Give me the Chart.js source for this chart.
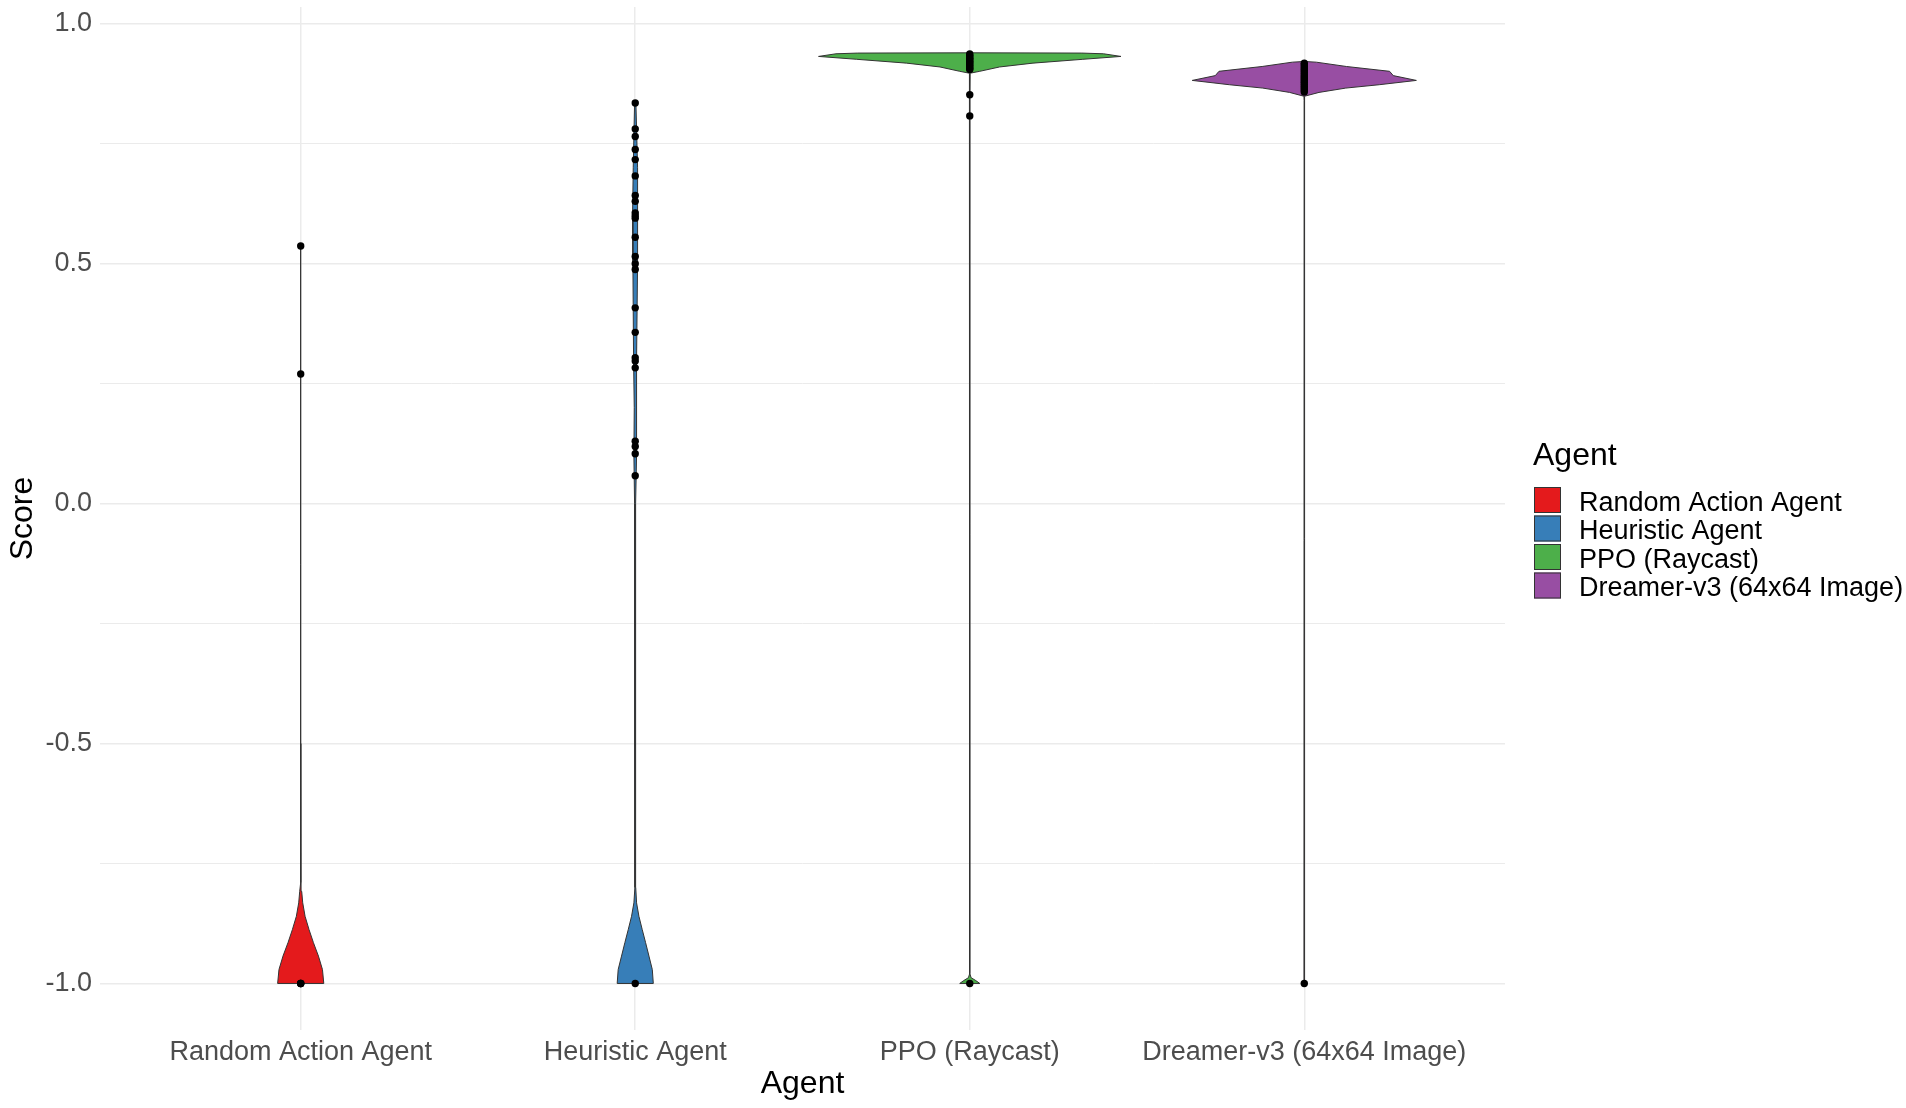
<!DOCTYPE html>
<html>
<head>
<meta charset="utf-8">
<script src="https://cdn.jsdelivr.net/npm/chart.js@4"></script>
<style>
  body { margin: 0; background: #fff; }
  #chart { display: block; }
</style>
</head>
<body>
<canvas id="chart" width="1906" height="1108"></canvas>
<script>
const agents = ["Random Action Agent", "Heuristic Agent", "PPO (Raycast)", "Dreamer-v3 (64x64 Image)"];
const agentColors = ["#E41A1C", "#377EB8", "#4DAF4A", "#984EA3"];
const yTicks = [-1, -0.5, 0, 0.5, 1];
const yMinorTicks = [-0.75, -0.25, 0.25, 0.75];

// violin outlines: score levels and half widths (in category units)
const randomLevels = [-1, -0.971, -0.943, -0.915, -0.888, -0.86, -0.832, -0.808, -0.79, -0.5, 0, 0.27, 0.537];
const randomWidths = [0.069, 0.065, 0.053, 0.038, 0.025, 0.013, 0.006, 0.003, 0.001, 0.0003, 0.0003, 0.0005, 0.0003];
const heuristicLevels = [-1, -0.971, -0.943, -0.915, -0.888, -0.86, -0.832, -0.8, -0.6, -0.3, -0.04, 0, 0.1, 0.2, 0.3, 0.5, 0.6, 0.7, 0.834];
const heuristicWidths = [0.054, 0.051, 0.041, 0.031, 0.021, 0.011, 0.004, 0.0015, 0.0008, 0.0008, 0.001, 0.002, 0.004, 0.003, 0.005, 0.007, 0.008, 0.006, 0.002];
const ppoLevels = [-1, -0.994, -0.988, -0.98, 0.85, 0.897, 0.901, 0.91, 0.918, 0.926, 0.932, 0.9375, 0.939, 0.9395];
const ppoWidths = [0.03, 0.018, 0.004, 0.0005, 0.0005, 0.001, 0.03, 0.089, 0.189, 0.338, 0.452, 0.40, 0.335, 0];
const dreamerLevels = [-1, -0.995, 0.84, 0.849, 0.857, 0.866, 0.873, 0.882, 0.892, 0.901, 0.911, 0.92, 0.9215];
const dreamerWidths = [0.006, 0.001, 0.0005, 0.001, 0.044, 0.124, 0.224, 0.335, 0.266, 0.255, 0.126, 0.036, 0];

// individual scores
const randomPoints = [0.537, 0.27, -1, -1, -1];
const heuristicPoints = [0.835, 0.781, 0.765, 0.738, 0.717, 0.683, 0.642, 0.630, 0.606, 0.600, 0.595, 0.555, 0.515, 0.500, 0.488, 0.408, 0.357, 0.304, 0.297, 0.283, 0.130, 0.119, 0.104, 0.058, -1];
const ppoPoints = [0.937, 0.934, 0.931, 0.928, 0.925, 0.922, 0.919, 0.916, 0.913, 0.910, 0.907, 0.905, 0.852, 0.808, -1];
const dreamerPoints = [0.918, 0.914, 0.910, 0.906, 0.902, 0.898, 0.894, 0.890, 0.886, 0.882, 0.878, 0.874, 0.870, 0.866, 0.862, 0.858, -1];

const violinLevels = [randomLevels, heuristicLevels, ppoLevels, dreamerLevels];
const violinWidths = [randomWidths, heuristicWidths, ppoWidths, dreamerWidths];
const agentPoints = [randomPoints, heuristicPoints, ppoPoints, dreamerPoints];

Chart.defaults.font.family = "'Liberation Sans', Arial, sans-serif";

function violinShape(pos, levels, widths) {
  const right = levels.map((y, i) => ({ x: pos + widths[i], y: y }));
  const left = levels.map((y, i) => ({ x: pos - widths[i], y: y })).reverse();
  const pts = right.concat(left);
  pts.push(pts[0]);
  return pts;
}

const datasets = [];
agents.forEach((name, i) => {
  datasets.push({
    label: name,
    data: violinShape(i + 1, violinLevels[i], violinWidths[i]),
    showLine: true,
    fill: 'shape',
    backgroundColor: agentColors[i],
    borderColor: '#333333',
    borderWidth: 1,
    pointRadius: 0,
    tension: 0,
    order: 2
  });
});
agents.forEach((name, i) => {
  datasets.push({
    label: name + ' points',
    data: agentPoints[i].map(v => ({ x: i + 1, y: v })),
    showLine: false,
    pointRadius: 3.7,
    pointBackgroundColor: '#000',
    pointBorderWidth: 0,
    order: 1
  });
});

// legend drawn at the right, like the ggplot guide
const sideLegend = {
  id: 'sideLegend',
  afterDraw(chart) {
    const ctx = chart.ctx;
    ctx.save();
    ctx.fillStyle = '#000';
    ctx.font = "32px 'Liberation Sans', Arial, sans-serif";
    ctx.textBaseline = 'alphabetic';
    ctx.fillText('Agent', 1533, 465);
    ctx.font = "27px 'Liberation Sans', Arial, sans-serif";
    agents.forEach((name, i) => {
      const top = 487 + i * 28.5;
      ctx.fillStyle = agentColors[i];
      ctx.fillRect(1534, top, 27, 26);
      ctx.strokeStyle = '#333333';
      ctx.lineWidth = 1;
      ctx.strokeRect(1534.5, top + 0.5, 26, 25);
      ctx.fillStyle = '#000';
      ctx.fillText(name, 1579, top + 23.7);
    });
    ctx.restore();
  }
};

new Chart(document.getElementById('chart'), {
  type: 'scatter',
  data: { datasets: datasets },
  plugins: [sideLegend],
  options: {
    responsive: false,
    animation: false,
    events: [],
    layout: { padding: { left: 0, right: 401, top: 7, bottom: 0 } },
    plugins: { legend: { display: false }, tooltip: { enabled: false } },
    scales: {
      x: {
        type: 'linear',
        min: 0.4,
        max: 4.6,
        afterBuildTicks: (s) => { s.ticks = agents.map((a, i) => ({ value: i + 1 })); },
        afterFit: (s) => { s.height = 78; s.paddingLeft = 0; s.paddingRight = 0; },
        ticks: {
          autoSkip: false,
          maxRotation: 0,
          padding: 6,
          color: '#4D4D4D',
          font: { size: 27 },
          callback: (v) => agents[v - 1]
        },
        grid: { color: '#EBEBEB', lineWidth: 1.5, drawTicks: false },
        border: { display: false },
        title: { display: true, text: 'Agent', color: '#000', font: { size: 32 }, padding: { top: 0, bottom: 4.5 } }
      },
      y: {
        type: 'linear',
        min: -1.097,
        max: 1.035,
        afterBuildTicks: (s) => {
          s.ticks = yTicks.concat(yMinorTicks).sort((a, b) => a - b).map(v => ({ value: v }));
        },
        afterFit: (s) => { s.width = 100; s.paddingTop = 0; s.paddingBottom = 0; },
        ticks: {
          padding: 8,
          color: '#4D4D4D',
          font: { size: 27 },
          callback: (v) => yTicks.includes(v) ? v.toFixed(1) : ''
        },
        grid: {
          color: '#EBEBEB',
          lineWidth: (c) => yTicks.includes(c.tick.value) ? 1.5 : 1,
          drawTicks: false
        },
        border: { display: false },
        title: { display: true, text: 'Score', color: '#000', font: { size: 32 }, padding: { top: 3.5, bottom: 0 } }
      }
    }
  }
});
</script>
</body>
</html>
